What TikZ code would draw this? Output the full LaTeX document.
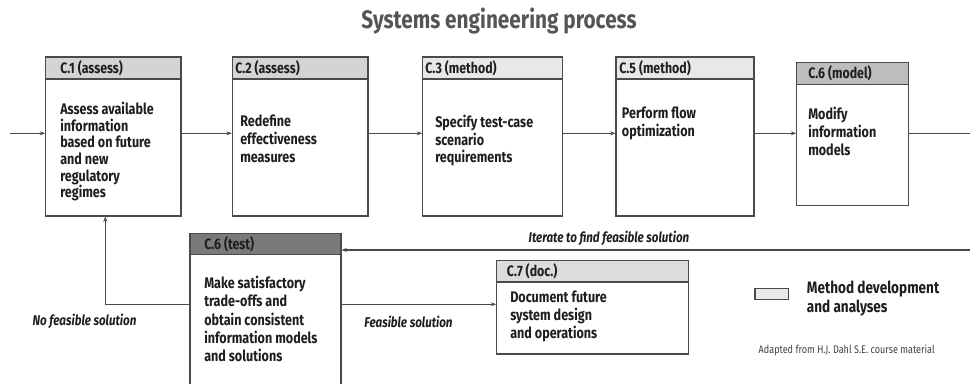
\documentclass[tikz,border=0pt]{standalone}
\usepackage{fontspec}
\setmainfont{Fira Sans}[FakeStretch=0.82]
\usetikzlibrary{arrows.meta,fit}
\definecolor{linec}{HTML}{4A4A4A}
\definecolor{txt}{HTML}{1E1E1E}
\definecolor{hA}{HTML}{D4D4D4}
\definecolor{hB}{HTML}{E8E8E8}
\definecolor{hC}{HTML}{BDBDBD}
\definecolor{hD}{HTML}{7A7A7A}
\definecolor{hE}{HTML}{DCDCDC}
\definecolor{hL}{HTML}{E9E9E9}
\definecolor{titlec}{HTML}{555555}
\begin{document}
\begin{tikzpicture}[x=0.75pt,y=-0.75pt,
  boxst/.style={draw=linec, line width=0.8pt, inner sep=0pt, fill=white},
  hdrst/.style={draw=linec, line width=0.8pt, inner sep=0pt},
  hlabel/.style={anchor=base west, inner sep=0pt, text=txt, font=\bfseries\fontsize{11.3}{13}\selectfont},
  btext/.style={anchor=north west, inner sep=0pt, text=txt, align=left, font=\bfseries\fontsize{11.5}{#1}\selectfont},
  btext/.default=12.6,
  elabel/.style={inner sep=0pt, text=txt, font=\bfseries\itshape\fontsize{10.6}{12}\selectfont},
  conn/.style={draw=linec, line width=0.8pt},
  arr/.style={conn, -{Stealth[length=4pt,width=3pt]}}
]
\useasboundingbox (0,0) rectangle (970,384);
\clip (0,0) rectangle (970,384);

% title
\node[inner sep=0pt, text=titlec, font=\bfseries\fontsize{19}{22}\selectfont] (title) at (499,21) {Systems engineering process};

% boxes
\node[boxst, fit={(45.7,57) (181,216)}] (c1) {};
\node[hdrst, fill=hA, fit={(45.7,57) (181,79)}] (c1h) {};
\node[hlabel] (c1l) at (60,73.5) {C.1 (assess)};
\node[btext=12.45] (c1t) at (60,102) {Assess available\\information\\based on future\\and new\\regulatory\\regimes};

\node[boxst, fit={(232.3,57) (368,216)}] (c2) {};
\node[hdrst, fill=hA, fit={(232.3,57) (368,79)}] (c2h) {};
\node[hlabel] (c2l) at (235,73.5) {C.2 (assess)};
\node[btext=13.2] (c2t) at (240,115) {Redefine\\effectiveness\\measures};

\node[boxst, fit={(422.7,57) (562.3,216)}] (c3) {};
\node[hdrst, fill=hB, fit={(422.7,57) (562.3,79)}] (c3h) {};
\node[hlabel] (c3l) at (425,73.5) {C.3 (method)};
\node[btext=13.2] (c3t) at (435,115) {Specify test-case\\scenario\\requirements};

\node[boxst, fit={(616,57) (754,216)}] (c5) {};
\node[hdrst, fill=hB, fit={(616,57) (754,79)}] (c5h) {};
\node[hlabel] (c5l) at (619,73.5) {C.5 (method)};
\node[btext=13.3] (c5t) at (621.7,107) {Perform flow\\optimization};

\node[boxst, fit={(796.7,62.7) (908.3,205.7)}] (c6m) {};
\node[hdrst, fill=hC, fit={(796.7,62.7) (908.3,84.3)}] (c6mh) {};
\node[hlabel] (c6ml) at (808,79) {C.6 (model)};
\node[btext=13.5] (c6mt) at (808,107) {Modify\\information\\models};

\node[boxst, fit={(190,233.3) (341,400)}] (c6t) {};
\node[hdrst, fill=hD, fit={(190,233.3) (341,254.7)}] (c6th) {};
\node[hlabel] (c6tl) at (204,249.5) {C.6 (test)};
\node[btext=13.7] (c6tt) at (204,276) {Make satisfactory\\trade-offs and\\obtain consistent\\information models\\and solutions};

\node[boxst, fit={(496.7,260.7) (688.3,354)}] (c7) {};
\node[hdrst, fill=hE, fit={(496.7,260.7) (688.3,282)}] (c7h) {};
\node[hlabel] (c7l) at (506.7,277) {C.7 (doc.)};
\node[btext=13.5] (c7t) at (510,291) {Document future\\system design\\and operations};

% legend
\node[hdrst, fill=hL, fit={(755,288.3) (788.3,299.3)}] (leg) {};
\node[btext=14.2, font=\bfseries\fontsize{12.4}{14.2}\selectfont] (legt) at (806.7,281) {Method development\\and analyses};
\node[inner sep=0pt, text=txt!85, font=\fontsize{8.3}{10}\selectfont] (src) at (846.7,350) {Adapted from H.J. Dahl S.E. course material};

% connectors
\coordinate (in) at (10,133.3);
\coordinate (out) at (975,133.3);
\coordinate (iter) at (975,250);
\draw[arr] (in) -- (in -| c1.west);
\draw[arr] (c1.east |- in) -- (c2.west |- in);
\draw[arr] (c2.east |- in) -- (c3.west |- in);
\draw[arr] (c3.east |- in) -- (c5.west |- in);
\draw[arr] (c5.east |- in) -- (c6m.west |- in);
\draw[conn] (c6m.east |- in) -- (out);
\draw[arr] (iter) -- (iter -| c6t.east);
\coordinate (fy) at (0,304.3);
\coordinate (nfx) at (105.3,0);
\draw[arr] (c6t.west |- fy) -- (nfx |- fy) -- (nfx |- c1.south);
\draw[arr] (c6t.east |- fy) -- (c7.west |- fy);

% edge labels
\node[elabel] (nf) at (84.5,321.7) {No feasible solution};
\node[elabel] (fs) at (408.5,321.7) {Feasible solution};
\node[elabel] (it) at (609,238.3) {Iterate to find feasible solution};
\end{tikzpicture}
\end{document}
